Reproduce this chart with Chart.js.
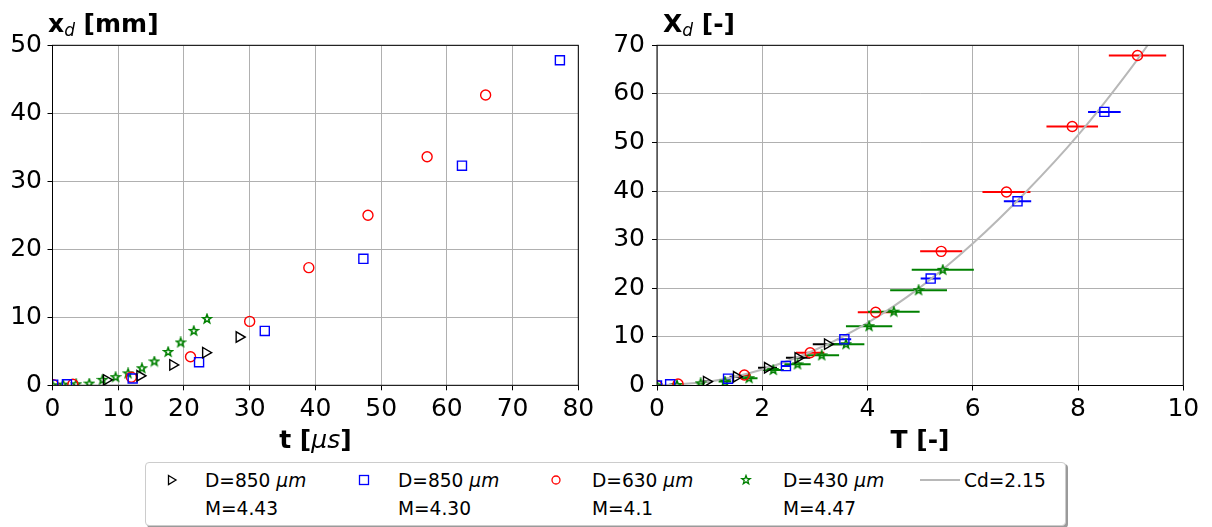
<!DOCTYPE html>
<html>
<head>
<meta charset="utf-8">
<script src="https://cdn.jsdelivr.net/npm/chart.js@4"></script>
<style>
  body { margin: 0; background: #fff; width: 1212px; height: 527px; overflow: hidden; position: relative; font-family: "DejaVu Sans", sans-serif; }
  #leftChart { position: absolute; left: 0; top: 0; }
  #rightChart { position: absolute; left: 606px; top: 0; }
  #legend { position: absolute; left: 145px; top: 462px; width: 919px; height: 62px; border: 1px solid #cccccc; border-radius: 4px; box-shadow: 2px 2px 0 #9a9a9a; background: #fff; font-size: 18.6px; }
  .txt { position: absolute; line-height: 21px; white-space: nowrap; color: #000; }
  .mk { position: absolute; }
</style>
</head>
<body>
<canvas id="leftChart" width="606" height="460"></canvas>
<canvas id="rightChart" width="606" height="460"></canvas>
<div id="legend">
  <svg class="mk" style="left:20px;top:11px" width="12" height="12"><polygon points="2.5,1.5 10,6 2.5,10.5" fill="none" stroke="#000" stroke-width="1.3"/></svg>
  <div class="txt" style="left:59px;top:7px">D=850 <i>μm</i></div>
  <div class="txt" style="left:59px;top:35px">M=4.43</div>

  <svg class="mk" style="left:212px;top:11px" width="12" height="12"><rect x="1.5" y="1.5" width="9" height="9" fill="none" stroke="#0000ff" stroke-width="1.3"/></svg>
  <div class="txt" style="left:252px;top:7px">D=850 <i>μm</i></div>
  <div class="txt" style="left:252px;top:35px">M=4.30</div>

  <svg class="mk" style="left:404px;top:11px" width="12" height="12"><circle cx="6" cy="6" r="4" fill="none" stroke="#ff0000" stroke-width="1.3"/></svg>
  <div class="txt" style="left:446px;top:7px">D=630 <i>μm</i></div>
  <div class="txt" style="left:446px;top:35px">M=4.1</div>

  <svg class="mk" style="left:594px;top:11px" width="12" height="12"><polygon points="6,1.5 7.1,4.5 10.3,4.6 7.8,6.6 8.7,9.7 6,7.9 3.3,9.7 4.2,6.6 1.7,4.6 4.9,4.5" fill="none" stroke="#008000" stroke-width="1.3"/></svg>
  <div class="txt" style="left:637px;top:7px">D=430 <i>μm</i></div>
  <div class="txt" style="left:637px;top:35px">M=4.47</div>

  <svg class="mk" style="left:774px;top:15px" width="40" height="4"><line x1="0" y1="2" x2="40" y2="2" stroke="#b8b8b8" stroke-width="2"/></svg>
  <div class="txt" style="left:818px;top:7px">Cd=2.15</div>
</div>

<script>
// left panel: displacement x_d [mm] vs time t [us]
const tTri = [8.2, 13.3, 18.3, 23.3, 28.4];
const xTri = [0.8, 1.4, 3.0, 4.8, 7.1];
const tSq = [0.1, 2.2, 12.2, 22.3, 32.3, 47.3, 62.3, 77.2];
const xSq = [0.1, 0.15, 1.0, 3.4, 8.0, 18.6, 32.3, 47.8];
const tCirc = [0.1, 3.1, 12.0, 21.0, 30.0, 39.0, 48.0, 57.0, 65.9];
const xCirc = [0.1, 0.15, 1.2, 4.2, 9.4, 17.3, 25.0, 33.6, 42.7];
const tStar = [0, 1.6, 3.6, 5.6, 7.6, 9.6, 11.5, 13.6, 15.5, 17.6, 19.5, 21.5, 23.5];
const xStar = [0, 0.1, 0.15, 0.25, 0.8, 1.2, 1.75, 2.5, 3.5, 4.9, 6.3, 8.0, 9.75];

// right panel: X_d [-] vs T [-], with horizontal error on T
const TTri = [0.94, 1.51, 2.10, 2.68, 3.24];
const XTri = [0.8, 1.8, 3.65, 5.7, 8.5];
const eTri = [0.08, 0.13, 0.18, 0.23, 0.28];
const TSq = [0, 0.25, 1.35, 2.45, 3.56, 5.20, 6.85, 8.50];
const XSq = [0, 0.25, 1.4, 4.0, 9.5, 22.0, 37.9, 56.3];
const eSq = [0, 0.01, 0.05, 0.09, 0.13, 0.19, 0.26, 0.31];
const TCirc = [0, 0.40, 1.66, 2.91, 4.155, 5.40, 6.64, 7.89, 9.13];
const XCirc = [0, 0.3, 2.16, 6.75, 15.06, 27.6, 39.8, 53.3, 67.9];
const eCirc = [0, 0.03, 0.12, 0.27, 0.34, 0.40, 0.456, 0.49, 0.545];
const TStar = [0, 0.38, 0.83, 1.29, 1.75, 2.21, 2.67, 3.13, 3.59, 4.03, 4.50, 4.97, 5.43];
const XStar = [0, 0.1, 0.45, 0.8, 1.5, 3.2, 4.35, 6.2, 8.5, 12.2, 15.2, 19.6, 23.8];
const eStar = [0, 0.04, 0.08, 0.12, 0.16, 0.20, 0.25, 0.33, 0.35, 0.44, 0.49, 0.54, 0.59];

// Cd=2.15 model curve
const cdT = [0, 1, 2, 3, 4, 5, 6, 7, 8, 9, 9.7];
const cdX = [0, 0.8, 3.3, 7.3, 12.9, 20.2, 29.2, 39.7, 51.5, 65.2, 75.8];

const FONT = 'DejaVu Sans';

function pts(xs, ys) {
  return xs.map((v, i) => ({ x: v, y: ys[i] }));
}

function starImg(size, color, lw) {
  const c = document.createElement('canvas');
  c.width = c.height = size;
  const g = c.getContext('2d');
  const cx = size / 2, cy = size / 2, R = size / 2 - lw, r = R * 0.42;
  g.beginPath();
  for (let k = 0; k < 10; k++) {
    const a = -Math.PI / 2 + k * Math.PI / 5;
    const rr = k % 2 ? r : R;
    g.lineTo(cx + rr * Math.cos(a), cy + rr * Math.sin(a));
  }
  g.closePath();
  g.strokeStyle = color;
  g.lineWidth = lw;
  g.stroke();
  return c;
}
const star = starImg(12, '#008000', 1.6);

function drawParts(ctx, parts, x, base, center) {
  let w = 0;
  parts.forEach(p => { ctx.font = p.font; p.w = ctx.measureText(p.t).width; w += p.w; });
  let cx = center ? x - w / 2 : x;
  parts.forEach(p => {
    ctx.font = p.font;
    ctx.fillText(p.t, cx, base + (p.dy || 0));
    cx += p.w;
  });
}

function errPlugin(sets) {
  return {
    id: 'errBars',
    beforeDatasetsDraw(chart) {
      const { ctx, chartArea: a } = chart;
      const xs = chart.scales.x, ys = chart.scales.y;
      ctx.save();
      ctx.beginPath();
      ctx.rect(a.left, a.top, a.right - a.left, a.bottom - a.top);
      ctx.clip();
      ctx.lineWidth = 2;
      sets.forEach(s => {
        ctx.strokeStyle = s.color;
        s.x.forEach((v, i) => {
          if (!s.e[i]) return;
          const y = ys.getPixelForValue(s.y[i]);
          ctx.beginPath();
          ctx.moveTo(xs.getPixelForValue(v - s.e[i]), y);
          ctx.lineTo(xs.getPixelForValue(v + s.e[i]), y);
          ctx.stroke();
        });
      });
      ctx.restore();
    }
  };
}

function labelPlugin(yParts, yx, xParts, xc) {
  return {
    id: 'labels',
    afterDatasetsDraw(chart) {
      const { ctx, chartArea: a } = chart;
      ctx.save();
      ctx.strokeStyle = '#000';
      ctx.lineWidth = 1;
      ctx.strokeRect(a.left, a.top, a.right - a.left, a.bottom - a.top);
      ctx.fillStyle = '#000';
      ctx.textBaseline = 'alphabetic';
      drawParts(ctx, yParts, yx, 32, false);
      drawParts(ctx, xParts, xc, 448, true);
      ctx.restore();
    }
  };
}

function axis(min, max, step, fit, pad) {
  return {
    type: 'linear', min: min, max: max,
    afterFit: fit,
    border: { display: false },
    grid: { color: '#b0b0b0', lineWidth: 1, tickColor: '#000', tickLength: 5 },
    ticks: { stepSize: step, autoSkip: false, maxRotation: 0, padding: pad, color: '#000', font: { family: FONT, size: 25 } }
  };
}

function marker(label, data, style, color, radius, extra) {
  return Object.assign({
    label: label, data: data, pointStyle: style, pointRadius: radius,
    borderColor: color, backgroundColor: 'rgba(0,0,0,0)', pointBorderWidth: 1.4, showLine: false
  }, extra || {});
}

const bold = '700 25px "' + FONT + '"';
const ital = 'italic 400 25px "' + FONT + '"';
const sub = 'italic 400 17px "' + FONT + '"';

new Chart(document.getElementById('leftChart'), {
  type: 'scatter',
  data: {
    datasets: [
      marker('tri', pts(tTri, xTri), 'triangle', '#000', 6, { pointRotation: 90 }),
      marker('sq', pts(tSq, xSq), 'rect', '#0000ff', 6.4),
      marker('circ', pts(tCirc, xCirc), 'circle', '#ff0000', 5),
      marker('star', pts(tStar, xStar), star, '#008000', 5)
    ]
  },
  options: {
    responsive: false, animation: false, events: [],
    layout: { padding: { top: 45.3, right: 27.7, left: 0, bottom: 0 } },
    plugins: { legend: { display: false }, tooltip: { enabled: false } },
    scales: {
      x: axis(0, 80, 10, s => { s.height = 74.7; }, 4),
      y: axis(0, 50, 10, s => { s.width = 52.5; }, 5.5)
    }
  },
  plugins: [labelPlugin(
    [{ t: 'x', font: bold }, { t: 'd', font: sub, dy: 4 }, { t: ' [mm]', font: bold }], 48,
    [{ t: 't [', font: bold }, { t: 'μs', font: ital }, { t: ']', font: bold }], 315.4
  )]
});

new Chart(document.getElementById('rightChart'), {
  type: 'scatter',
  data: {
    datasets: [
      marker('tri', pts(TTri, XTri), 'triangle', '#000', 6, { pointRotation: 90 }),
      marker('sq', pts(TSq, XSq), 'rect', '#0000ff', 6.4),
      marker('circ', pts(TCirc, XCirc), 'circle', '#ff0000', 5),
      marker('star', pts(TStar, XStar), star, '#008000', 5),
      {
        type: 'line', label: 'Cd=2.15', data: pts(cdT, cdX), borderColor: '#b8b8b8', borderWidth: 2,
        pointRadius: 0, fill: false, cubicInterpolationMode: 'monotone'
      }
    ]
  },
  options: {
    responsive: false, animation: false, events: [],
    layout: { padding: { top: 45.3, right: 28.7, left: 0, bottom: 0 } },
    plugins: { legend: { display: false }, tooltip: { enabled: false } },
    scales: {
      x: axis(0, 10, 2, s => { s.height = 74.5; }, 4),
      y: axis(0, 70, 10, s => { s.width = 51; }, 7)
    }
  },
  plugins: [
    errPlugin([
      { x: TTri, y: XTri, e: eTri, color: '#000' },
      { x: TSq, y: XSq, e: eSq, color: '#0000ff' },
      { x: TCirc, y: XCirc, e: eCirc, color: '#ff0000' },
      { x: TStar, y: XStar, e: eStar, color: '#008000' }
    ]),
    labelPlugin(
      [{ t: 'X', font: bold }, { t: 'd', font: sub, dy: 4 }, { t: ' [-]', font: bold }], 57,
      [{ t: 'T [-]', font: bold }], 314
    )
  ]
});
</script>
</body>
</html>
